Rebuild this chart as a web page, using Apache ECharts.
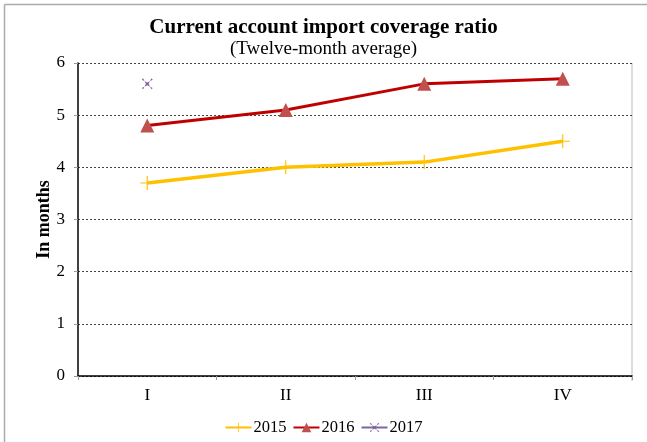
<!DOCTYPE html>
<html>
<head>
<meta charset="utf-8">
<script src="https://cdn.jsdelivr.net/npm/echarts@6/dist/echarts.min.js"></script>
<style>
  html, body { margin: 0; padding: 0; background: #fff; }
  #main { width: 647px; height: 442px; }
</style>
</head>
<body>
<div id="main"></div>
<script>
var quarters = ['I', 'II', 'III', 'IV'];
var data2015 = [3.7, 4.0, 4.1, 4.5];
var data2016 = [4.8, 5.1, 5.6, 5.7];
var data2017 = [5.6, null, null, null];
var yTicks = [0, 1, 2, 3, 4, 5, 6];

var plusPath = 'path://M-0.08,-1H0.08V-0.08H1V0.08H0.08V1H-0.08V0.08H-1V-0.08H-0.08Z';
var crossPath = 'path://M-0.8,-0.6L0,-0.2L0.8,-0.6L0.6,-0.8L0.2,0L0.6,0.8L0.8,0.6L0,0.2L-0.8,0.6L-0.6,0.8L-0.2,0L-0.6,-0.8Z';
var serifFont = '"Liberation Serif", "Times New Roman", serif';

var myChart = echarts.init(document.getElementById('main'));
var option = {
  backgroundColor: '#FFFFFF',
  animation: false,
  textStyle: { fontFamily: serifFont },
  title: {
    text: 'Current account import coverage ratio',
    subtext: '(Twelve-month average)',
    left: 'center',
    top: 12,
    itemGap: 2,
    textStyle: { fontFamily: serifFont, fontSize: 21, fontWeight: 'bold', color: '#000' },
    subtextStyle: { fontFamily: serifFont, fontSize: 19, color: '#000' }
  },
  grid: { left: 78, right: 15, top: 63, bottom: 66, containLabel: false },
  legend: {
    bottom: 1,
    left: 'center',
    itemWidth: 26,
    itemHeight: 12,
    itemGap: 6,
    textStyle: { fontFamily: serifFont, fontSize: 16.5, color: '#000', padding: [0, 0, 0, -3] },
    data: ['2015', '2016', '2017']
  },
  xAxis: {
    type: 'category',
    data: quarters,
    boundaryGap: true,
    axisLine: { lineStyle: { color: '#000', width: 1.5 } },
    axisTick: { show: true, length: 4, lineStyle: { color: '#999' } },
    axisLabel: { fontFamily: serifFont, fontSize: 17, color: '#000', margin: 11 },
    splitLine: { show: false }
  },
  yAxis: {
    type: 'value',
    min: yTicks[0],
    max: yTicks[yTicks.length - 1],
    interval: 1,
    name: 'In months',
    nameLocation: 'middle',
    nameGap: 25,
    nameMoveOverlap: false,
    nameTextStyle: { fontFamily: serifFont, fontSize: 18, fontWeight: 'bold', color: '#000' },
    axisLine: { show: true, lineStyle: { color: '#000', width: 1.5 } },
    axisTick: { show: true, length: 4, lineStyle: { color: '#999' } },
    axisLabel: { fontFamily: serifFont, fontSize: 17, color: '#000', margin: 13 },
    splitLine: { show: true, lineStyle: { color: '#444', type: [2, 2], width: 1 } }
  },
  series: [
    {
      name: '2015',
      type: 'line',
      data: data2015,
      symbol: plusPath,
      symbolSize: 14,
      color: '#FFC000',
      lineStyle: { color: '#FFC000', width: 3.5 },
      itemStyle: { color: '#FFC000' },
      z: 3
    },
    {
      name: '2016',
      type: 'line',
      data: data2016,
      symbol: 'triangle',
      symbolSize: 14,
      color: '#C00000',
      lineStyle: { color: '#C00000', width: 3 },
      itemStyle: { color: '#C0504D' },
      z: 4
    },
    {
      name: '2017',
      type: 'line',
      data: data2017,
      symbol: crossPath,
      symbolSize: 11,
      color: '#8064A2',
      lineStyle: { color: '#8064A2', width: 3 },
      itemStyle: { color: '#8064A2' },
      z: 5
    }
  ],
  graphic: [
    { type: 'line', shape: { x1: 4.5, y1: 4.5, x2: 647, y2: 4.5 }, style: { stroke: '#aaa', lineWidth: 1.5 } },
    { type: 'line', shape: { x1: 4.5, y1: 4.5, x2: 4.5, y2: 442 }, style: { stroke: '#aaa', lineWidth: 1.5 } },
    { type: 'line', shape: { x1: 632, y1: 63, x2: 632, y2: 381 }, style: { stroke: '#bbb', lineWidth: 1 } }
  ]
};

option && myChart.setOption(option);
</script>
</body>
</html>
